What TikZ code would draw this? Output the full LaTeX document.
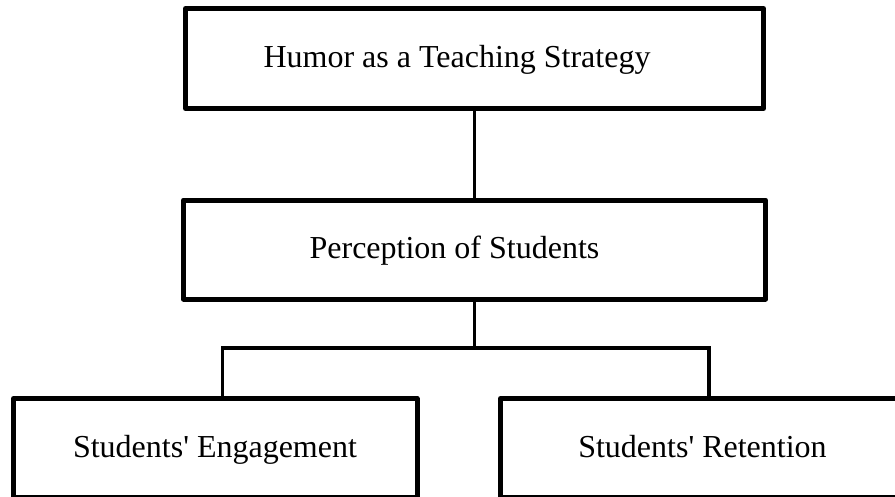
\documentclass[tikz,border=0pt]{standalone}
\usepackage{fontspec}
\setmainfont{Liberation Serif}
\begin{document}
\begin{tikzpicture}[x=1pt,y=1pt,
  box/.style={draw=black, line width=5pt, line join=round, fill=white, outer sep=0pt, inner sep=0pt},
  link/.style={draw=black, line width=3.5pt},
  lbl/.style={anchor=base, inner sep=0pt, font=\fontsize{32}{38}\selectfont}]
\useasboundingbox (0,0) rectangle (895,-496);
\clip (0,0) rectangle (895,-496);
\fill[white] (0,0) rectangle (895,-496);
% boxes
\node[box, minimum width=578pt, minimum height=100pt] (top) at (474.5,-58.5) {};
\node[box, minimum width=582pt, minimum height=99pt] (mid) at (474.5,-249.5) {};
\node[box, minimum width=403.5pt, minimum height=98.5pt] (bl) at (215.25,-447.75) {};
\node[box, minimum width=403.5pt, minimum height=98.5pt] (br) at (702.25,-447.75) {};
% labels
\node[lbl] (ttop) at (457,-67) {Humor as a Teaching Strategy};
\node[lbl] (tmid) at (454.5,-258) {Perception of Students};
\node[lbl] (tbl) at (215,-457) {Students\textquotesingle{} Engagement};
\node[lbl] (tbr) at (702.5,-457) {Students\textquotesingle{} Retention};
% connectors
\coordinate (j) at (474.5,-348);
\coordinate (jl) at (222.5,-348);
\coordinate (jr) at (709,-348);
\draw[link] (top.south) -- (mid.north);
\draw[link] (mid.south) -- (j);
\draw[link] (jl |- bl.north) -- (jl) -- (jr) -- (jr |- br.north);
\end{tikzpicture}
\end{document}
